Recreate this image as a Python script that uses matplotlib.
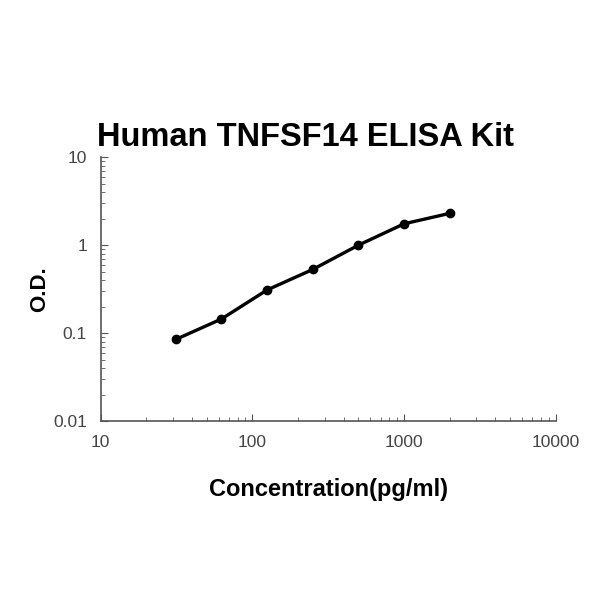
import matplotlib
matplotlib.use("Agg")
import matplotlib.pyplot as plt
from matplotlib.ticker import LogLocator, FixedLocator, FixedFormatter, NullFormatter

conc = [31.25, 62.5, 125, 250, 500, 1000, 2000]
od = [0.085, 0.145, 0.31, 0.53, 1.0, 1.75, 2.3]

xticks = [10, 100, 1000, 10000]
xtick_labels = ["10", "100", "1000", "10000"]
yticks = [0.01, 0.1, 1, 10]
ytick_labels = ["0.01", "0.1", "1", "10"]

plt.rcParams["font.family"] = ["Liberation Sans", "DejaVu Sans"]

fig = plt.figure(figsize=(6, 6), dpi=100)
ax = fig.add_axes([0.168, 0.298, 0.758, 0.44])

ax.plot(conc, od, color="black", lw=2.4, marker="o", ms=6)
ax.set_xscale("log")
ax.set_yscale("log")
ax.set_xlim(10, 10000)
ax.set_ylim(0.01, 10)

ax.xaxis.set_major_locator(FixedLocator(xticks))
ax.xaxis.set_major_formatter(FixedFormatter(xtick_labels))
ax.yaxis.set_major_locator(FixedLocator(yticks))
ax.yaxis.set_major_formatter(FixedFormatter(ytick_labels))
ax.xaxis.set_minor_locator(LogLocator(base=10, subs=range(2, 10)))
ax.yaxis.set_minor_locator(LogLocator(base=10, subs=range(2, 10)))
ax.xaxis.set_minor_formatter(NullFormatter())
ax.yaxis.set_minor_formatter(NullFormatter())

for s in ["top", "right"]:
    ax.spines[s].set_visible(False)
for s in ["left", "bottom"]:
    ax.spines[s].set_color("#555555")
    ax.spines[s].set_linewidth(1.2)

ax.tick_params(which="both", direction="in", colors="#555555", labelcolor="#444444", labelsize=12.5)
ax.tick_params(which="major", length=5, pad=10)
ax.tick_params(which="minor", length=3)

ax.set_title("Human TNFSF14 ELISA Kit", fontsize=23.5, fontweight="bold", pad=8, x=0.45)
ax.set_ylabel("O.D.", fontsize=16, fontweight="bold", labelpad=2)
ax.set_xlabel("Concentration(pg/ml)", fontsize=17, fontweight="bold", labelpad=20)

fig.savefig("out.png", dpi=100)
